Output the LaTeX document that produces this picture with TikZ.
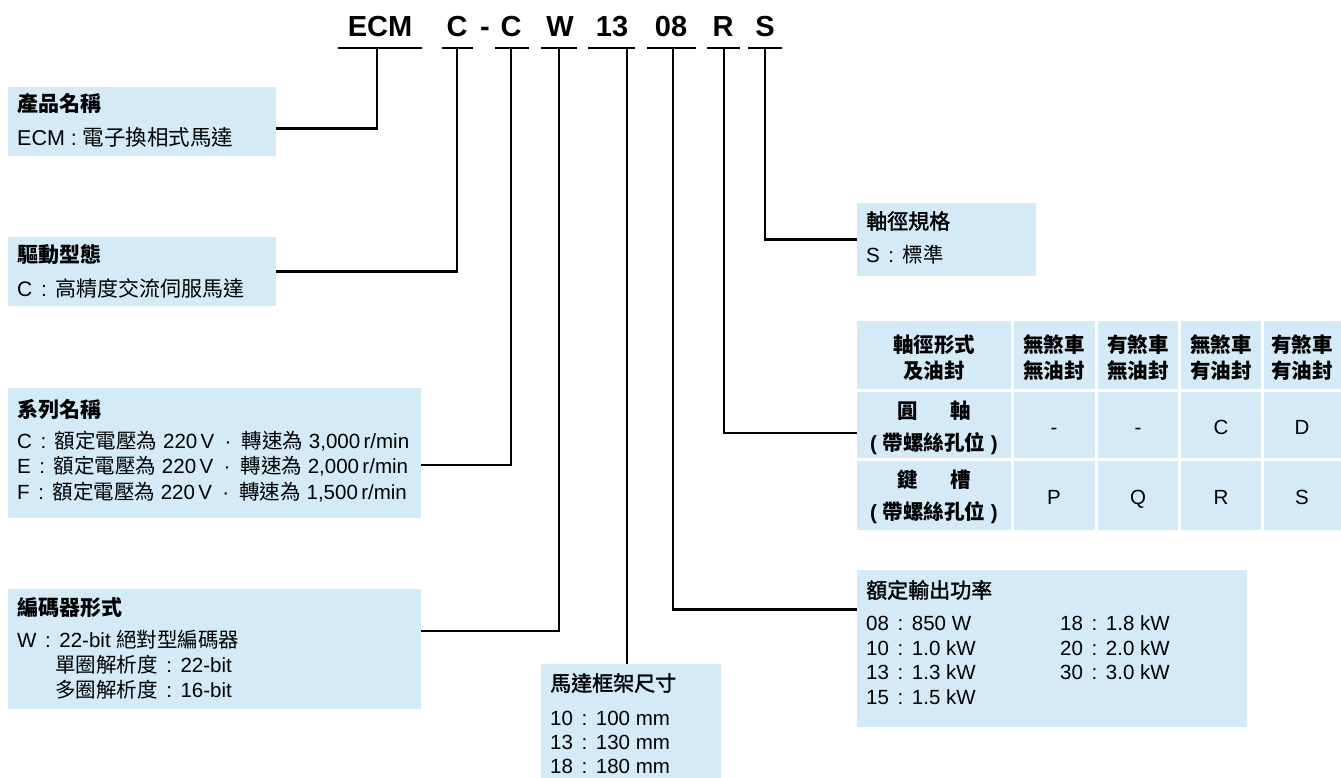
\documentclass[tikz,border=0pt]{standalone}
\usepackage{fontspec}
\setmainfont{Liberation Sans}
\newfontfamily\zhfont{Noto Sans CJK TC}
\newfontfamily\zhmed[FakeBold=1.6]{Noto Sans CJK TC}
\newcommand\zh[1]{{\zhfont#1}}
\newcommand\zm[1]{{\zhmed#1}}
\newcommand\zc{\hspace{0.42em}:\hspace{0.42em}}
\newcommand\zdot{\hspace{0.5em}·\hspace{0.5em}}
\definecolor{boxblue}{HTML}{D4EAF7}
\begin{document}
\begin{tikzpicture}[x=1pt,y=-1pt,
  infobox/.style={fill=boxblue,draw=none,inner sep=0pt,anchor=north west},
  txt/.style={anchor=base west,inner sep=0pt,font=\fontsize{20.5}{25}\selectfont},
  ttl/.style={anchor=base west,inner sep=0pt,font=\fontsize{21}{25}\selectfont\bfseries},
  mttl/.style={anchor=base west,inner sep=0pt,font=\fontsize{21}{25}\selectfont},
  codetxt/.style={anchor=base,inner sep=0pt,font=\fontsize{29}{30}\selectfont\bfseries},
  wire/.style={line width=2.5pt},
  ctxt/.style={anchor=base,inner sep=0pt,font=\fontsize{20.5}{25}\selectfont},
  cbold/.style={anchor=base,inner sep=0pt,font=\fontsize{20.5}{25}\selectfont\bfseries},
]
\useasboundingbox (0,0) rectangle (1341,778);

% ---------- header code ----------
\node[codetxt] (hECM) at (380,37) {ECM};
\node[codetxt] (hC1) at (457,37) {C};
\node[codetxt] (hDash) at (485,37) {-};
\node[codetxt] (hC2) at (511,37) {C};
\node[codetxt] (hW) at (560,37) {W};
\node[codetxt] (h13) at (612,37) {13};
\node[codetxt] (h08) at (671,37) {08};
\node[codetxt] (hR) at (723,37) {R};
\node[codetxt] (hS) at (765,37) {S};

\coordinate (u1a) at (338,48); \coordinate (u1b) at (422,48); \coordinate (t1) at (377,48);
\coordinate (u2a) at (442,48); \coordinate (u2b) at (473,48); \coordinate (t2) at (457,48);
\coordinate (u3a) at (495,48); \coordinate (u3b) at (529,48); \coordinate (t3) at (511,48);
\coordinate (u4a) at (541,48); \coordinate (u4b) at (577,48); \coordinate (t4) at (559,48);
\coordinate (u5a) at (588,48); \coordinate (u5b) at (635,48); \coordinate (t5) at (627,48);
\coordinate (u6a) at (647,48); \coordinate (u6b) at (696,48); \coordinate (t6) at (673,48);
\coordinate (u7a) at (707,48); \coordinate (u7b) at (740,48); \coordinate (t7) at (724,48);
\coordinate (u8a) at (748,48); \coordinate (u8b) at (782,48); \coordinate (t8) at (765,48);
\foreach \i in {1,...,8} {\draw[wire] (u\i a) -- (u\i b);}

% ---------- box 1 ----------
\node[infobox,minimum width=268pt,minimum height=69pt] (b1) at (8,87) {};
\node[ttl] (b1t) at (17,112) {\zh{產品名稱}};
\node[txt,font=\fontsize{21.5}{25}\selectfont] (b1a) at (17,146) {ECM : \zh{電子換相式馬達}};
\draw[wire] (b1.east) ++(0,7) -| (t1);

% ---------- box 2 ----------
\node[infobox,minimum width=268pt,minimum height=69pt] (b2) at (8,237) {};
\node[ttl] (b2t) at (17,262) {\zh{驅動型態}};
\node[txt,font=\fontsize{21}{25}\selectfont] (b2a) at (17,296) {C\zc\zh{高精度交流伺服馬達}};
\draw[wire] (b2.east) -| (t2);

% ---------- box 3 ----------
\node[infobox,minimum width=413pt,minimum height=130pt] (b3) at (8,388) {};
\node[ttl] (b3t) at (17,417) {\zh{系列名稱}};
\node[txt] (b3a) at (17,448) {C\zc\zh{額定電壓為} 220\,V\zdot\zh{轉速為} 3,000\,r/min};
\node[txt] (b3b) at (17,473) {E\zc\zh{額定電壓為} 220\,V\zdot\zh{轉速為} 2,000\,r/min};
\node[txt] (b3c) at (17,499) {F\zc\zh{額定電壓為} 220\,V\zdot\zh{轉速為} 1,500\,r/min};
\draw[wire] (b3.east) ++(0,12) -| (t3);

% ---------- box 4 ----------
\node[infobox,minimum width=413pt,minimum height=120pt] (b4) at (8,589) {};
\node[ttl] (b4t) at (17,615) {\zh{編碼器形式}};
\node[txt] (b4a) at (17,647) {W\zc 22-bit \zh{絕對型編碼器}};
\node[txt] (b4b) at (55,672) {\zh{單圈解析度}\zc 22-bit};
\node[txt] (b4c) at (55,697) {\zh{多圈解析度}\zc 16-bit};
\draw[wire] (b4.east) ++(0,-18) -| (t4);

% ---------- box 5 ----------
\node[infobox,minimum width=180pt,minimum height=114pt] (b5) at (541,664) {};
\node[mttl] (b5t) at (550,691) {\zm{馬達框架尺寸}};
\node[txt] (b5a) at (550,725) {10\zc 100 mm};
\node[txt] (b5b) at (550,749) {13\zc 130 mm};
\node[txt] (b5c) at (550,773) {18\zc 180 mm};
\draw[wire] (t5) -- (b5.north -| t5);

% ---------- box 6 ----------
\node[infobox,minimum width=390pt,minimum height=157pt] (b6) at (857,570) {};
\node[mttl] (b6t) at (866,598) {\zm{額定輸出功率}};
\node[txt] (b6a) at (866,630) {08\zc 850 W};
\node[txt] (b6b) at (866,655) {10\zc 1.0 kW};
\node[txt] (b6c) at (866,679) {13\zc 1.3 kW};
\node[txt] (b6d) at (866,704) {15\zc 1.5 kW};
\node[txt] (b6e) at (1060,630) {18\zc 1.8 kW};
\node[txt] (b6f) at (1060,655) {20\zc 2.0 kW};
\node[txt] (b6g) at (1060,679) {30\zc 3.0 kW};
\draw[wire] (b6.west) ++(0,-39) -| (t6);

% ---------- box 8 ----------
\node[infobox,minimum width=179pt,minimum height=73pt] (b8) at (857,203) {};
\node[mttl] (b8t) at (866,229) {\zm{軸徑規格}};
\node[txt] (b8a) at (866,262) {S\zc\zh{標準}};
\draw[wire] (b8.west) -| (t8);

% ---------- table ----------
\node[infobox,minimum width=154pt,minimum height=68pt] (r0c0) at (857,321) {};
\node[infobox,minimum width=81pt,minimum height=68pt] (r0c1) at (1014,321) {};
\node[infobox,minimum width=80pt,minimum height=68pt] (r0c2) at (1098,321) {};
\node[infobox,minimum width=80pt,minimum height=68pt] (r0c3) at (1181,321) {};
\node[infobox,minimum width=77pt,minimum height=68pt] (r0c4) at (1264,321) {};
\node[infobox,minimum width=154pt,minimum height=66pt] (r1c0) at (857,392) {};
\node[infobox,minimum width=81pt,minimum height=66pt] (r1c1) at (1014,392) {};
\node[infobox,minimum width=80pt,minimum height=66pt] (r1c2) at (1098,392) {};
\node[infobox,minimum width=80pt,minimum height=66pt] (r1c3) at (1181,392) {};
\node[infobox,minimum width=77pt,minimum height=66pt] (r1c4) at (1264,392) {};
\node[infobox,minimum width=154pt,minimum height=69pt] (r2c0) at (857,461) {};
\node[infobox,minimum width=81pt,minimum height=69pt] (r2c1) at (1014,461) {};
\node[infobox,minimum width=80pt,minimum height=69pt] (r2c2) at (1098,461) {};
\node[infobox,minimum width=80pt,minimum height=69pt] (r2c3) at (1181,461) {};
\node[infobox,minimum width=77pt,minimum height=69pt] (r2c4) at (1264,461) {};

\node[cbold] (h0a) at (934,352) {\zh{軸徑形式}};
\node[cbold] (h0b) at (934,378) {\zh{及油封}};
\node[cbold] (h1a) at (1054,352) {\zh{無煞車}};
\node[cbold] (h1b) at (1054,378) {\zh{無油封}};
\node[cbold] (h2a) at (1138,352) {\zh{有煞車}};
\node[cbold] (h2b) at (1138,378) {\zh{無油封}};
\node[cbold] (h3a) at (1221,352) {\zh{無煞車}};
\node[cbold] (h3b) at (1221,378) {\zh{有油封}};
\node[cbold] (h4a) at (1302,352) {\zh{有煞車}};
\node[cbold] (h4b) at (1302,378) {\zh{有油封}};

\node[cbold] (r1a) at (934,418) {\zh{圓}\hspace{1.6em}\zh{軸}};
\node[cbold] (r1b) at (934,450) {( \zh{帶螺絲孔位} )};
\node[ctxt] (v11) at (1054,434) {-};
\node[ctxt] (v12) at (1138,434) {-};
\node[ctxt] (v13) at (1221,434) {C};
\node[ctxt] (v14) at (1302,434) {D};

\node[cbold] (r2a) at (934,487) {\zh{鍵}\hspace{1.6em}\zh{槽}};
\node[cbold] (r2b) at (934,519) {( \zh{帶螺絲孔位} )};
\node[ctxt] (v21) at (1054,504) {P};
\node[ctxt] (v22) at (1138,504) {Q};
\node[ctxt] (v23) at (1221,504) {R};
\node[ctxt] (v24) at (1302,504) {S};

\draw[wire] (r1c0.west) ++(0,8) -| (t7);
\end{tikzpicture}
\end{document}
